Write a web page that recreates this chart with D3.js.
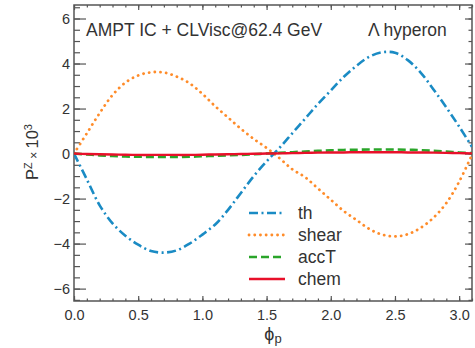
<!DOCTYPE html>
<html><head><meta charset="utf-8">
<script src="https://cdn.jsdelivr.net/npm/d3@7"></script>
<style>body{margin:0;background:#fff}svg{display:block}text{font-family:"Liberation Sans",Arial,sans-serif}</style>
</head><body><svg id="c" width="475" height="348"></svg>
<script>
const phi = [0.0,0.1,0.2,0.3,0.4,0.5,0.6,0.7,0.8,0.9,1.0,1.1,1.2,1.3,1.4,1.5,1.6,1.7,1.8,1.9,2.0,2.1,2.2,2.3,2.4,2.5,2.6,2.7,2.8,2.9,3.0,3.1];
const thVals = [0,-1.15,-2.3,-3.1,-3.65,-4.05,-4.33,-4.4,-4.3,-4.0,-3.6,-3.15,-2.5,-1.75,-1.0,-0.35,0.25,0.9,1.55,2.2,2.8,3.4,3.9,4.3,4.5,4.48,4.15,3.6,2.85,2.05,1.2,0.3];
const shearVals = [0,0.9,1.8,2.6,3.15,3.47,3.61,3.6,3.42,3.12,2.65,2.1,1.6,1.1,0.65,0.25,-0.2,-0.7,-1.05,-1.55,-2.05,-2.55,-2.95,-3.35,-3.6,-3.68,-3.58,-3.3,-2.85,-2.2,-1.25,-0.05];
const accTVals = [0,-0.04,-0.08,-0.11,-0.13,-0.14,-0.15,-0.15,-0.15,-0.14,-0.12,-0.1,-0.08,-0.06,-0.03,0,0.03,0.06,0.09,0.12,0.14,0.16,0.17,0.18,0.18,0.18,0.17,0.15,0.12,0.09,0.05,0.02];
const chemVals = [0,-0.02,-0.03,-0.04,-0.05,-0.06,-0.06,-0.06,-0.06,-0.06,-0.05,-0.04,-0.03,-0.02,-0.01,0,0.01,0.02,0.03,0.04,0.05,0.05,0.06,0.06,0.06,0.06,0.05,0.05,0.04,0.03,0.02,0.01];
const seriesNames = ["th","shear","accT","chem"];
const xTicks = [0.0,0.5,1.0,1.5,2.0,2.5,3.0];
const yTicks = [-6,-4,-2,0,2,4,6];
const title = "AMPT IC + CLVisc@62.4 GeV";
const particle = "Λ hyperon";

const svg = d3.select("#c");
const L=74,R=472,T=5,B=301;
const x = d3.scaleLinear().domain([0,3.1]).range([L,R]);
const y = d3.scaleLinear().domain([-6.55,6.6]).range([B,T]);
const axisColor="#555", textColor="#333";

const xMinor = d3.range(0,3.11,0.1).map(v=>+v.toFixed(2));
const yMinor = d3.range(-6.5,6.51,0.5).map(v=>+v.toFixed(2));

function styleAxis(g){g.select(".domain").remove();g.selectAll("line").attr("stroke",axisColor).attr("stroke-width",1.2);g.selectAll("text").attr("fill",textColor).style("font-size","14.5px");}
// bottom
svg.append("g").attr("transform",`translate(0,${B})`).call(d3.axisBottom(x).tickValues(xMinor).tickSize(-2.5).tickFormat("")).call(styleAxis);
svg.append("g").attr("transform",`translate(0,${B})`).call(d3.axisBottom(x).tickValues(xTicks).tickSize(-5).tickPadding(9).tickFormat(d3.format(".1f"))).call(styleAxis);
// top
svg.append("g").attr("transform",`translate(0,${T})`).call(d3.axisTop(x).tickValues(xMinor).tickSize(-2.5).tickFormat("")).call(styleAxis);
svg.append("g").attr("transform",`translate(0,${T})`).call(d3.axisTop(x).tickValues(xTicks).tickSize(-5).tickFormat("")).call(styleAxis);
// left
svg.append("g").attr("transform",`translate(${L},0)`).call(d3.axisLeft(y).tickValues(yMinor).tickSize(-6).tickFormat("")).call(styleAxis);
svg.append("g").attr("transform",`translate(${L},0)`).call(d3.axisLeft(y).tickValues(yTicks).tickSize(-12).tickPadding(4).tickFormat(d3.format("d"))).call(styleAxis);
// right
svg.append("g").attr("transform",`translate(${R},0)`).call(d3.axisRight(y).tickValues(yMinor).tickSize(-3.5).tickFormat("")).call(styleAxis);
svg.append("g").attr("transform",`translate(${R},0)`).call(d3.axisRight(y).tickValues(yTicks).tickSize(-7).tickFormat("")).call(styleAxis);

svg.append("rect").attr("x",L).attr("y",T).attr("width",R-L).attr("height",B-T).attr("fill","none").attr("stroke",axisColor).attr("stroke-width",1.5);

const styles = {
  th:{color:"#1a8bc4",dash:"9,3.5,2,3.5",cap:"butt",w:2.6},
  shear:{color:"#ff8c2a",dash:"0.1,5.6",cap:"round",w:2.8},
  accT:{color:"#2aa52a",dash:"8,4",cap:"butt",w:2.6},
  chem:{color:"#e8102a",dash:null,cap:"butt",w:2.4}
};
const dataMap = {th:thVals,shear:shearVals,accT:accTVals,chem:chemVals};
svg.append("clipPath").attr("id","cp").append("rect").attr("x",L).attr("y",T).attr("width",R-L).attr("height",B-T);
const line = d3.line().x((d,i)=>x(phi[i])).y(d=>y(d)).curve(d3.curveCatmullRom.alpha(0.5));
const order = ["shear","th","accT","chem"];
order.forEach(n=>{
  const s=styles[n];
  svg.append("path").attr("clip-path","url(#cp)").attr("d",line(dataMap[n])).attr("fill","none")
    .attr("stroke",s.color).attr("stroke-width",s.w).attr("stroke-linecap",s.cap)
    .attr("stroke-dasharray",s.dash);
});

// legend
const lg = svg.append("g");
seriesNames.forEach((n,i)=>{
  const s=styles[n]; const yy=213+i*22;
  lg.append("line").attr("x1",249).attr("x2",285).attr("y1",yy).attr("y2",yy)
    .attr("stroke",s.color).attr("stroke-width",s.w).attr("stroke-linecap",s.cap).attr("stroke-dasharray",s.dash);
  lg.append("text").attr("x",298).attr("y",yy+6).attr("fill",textColor).style("font-size","17.5px").text(n);
});

svg.append("text").attr("x",86).attr("y",36).attr("fill",textColor).style("font-size","17.5px").text(title);
svg.append("text").attr("x",368).attr("y",36).attr("fill",textColor).style("font-size","17.5px").text(particle);

// axis titles
const xt = svg.append("text").attr("x",273).attr("y",340).attr("text-anchor","middle").attr("fill",textColor).style("font-size","18px");
xt.append("tspan").text("ϕ");
xt.append("tspan").attr("dy",3).style("font-size","13px").text("p");

const yt = svg.append("text").attr("transform","translate(38,152) rotate(-90)").attr("text-anchor","middle").attr("fill",textColor).style("font-size","16.5px");
yt.append("tspan").text("P");
yt.append("tspan").attr("dy",-6).style("font-size","11px").text("Z");
yt.append("tspan").attr("dy",6).style("font-size","12px").text(" × ");
yt.append("tspan").text("10");
yt.append("tspan").attr("dy",-6).style("font-size","11px").text("3");
</script></body></html>
